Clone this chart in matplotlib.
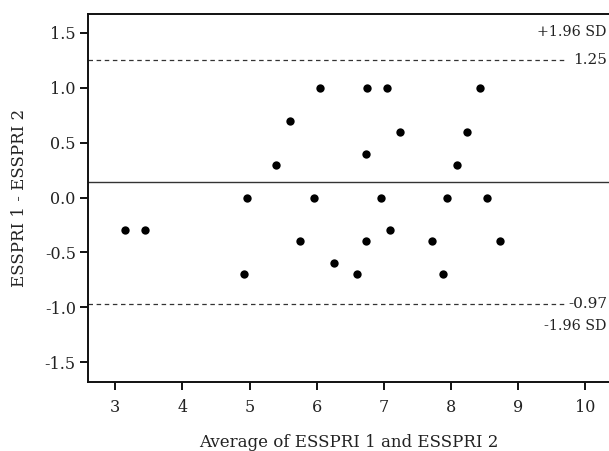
import matplotlib
matplotlib.use("Agg")
import matplotlib.pyplot as plt
import matplotlib.transforms as mtransforms

# Bland-Altman data
avg_scores = [6.05, 6.75, 7.05, 8.43, 5.60, 7.24, 8.23, 6.73, 5.40, 8.09,
              4.96, 5.96, 6.95, 7.94, 8.53,
              3.14, 3.44, 7.09,
              5.75, 6.74, 7.72, 8.73,
              6.26,
              4.91, 6.60, 7.88]
diff_scores = [1.0, 1.0, 1.0, 1.0, 0.7, 0.6, 0.6, 0.4, 0.3, 0.3,
               0.0, 0.0, 0.0, 0.0, 0.0,
               -0.3, -0.3, -0.3,
               -0.4, -0.4, -0.4, -0.4,
               -0.6,
               -0.7, -0.7, -0.7]
mean_diff = 0.14
upper_loa = 1.25
lower_loa = -0.97
x_ticks = [3, 4, 5, 6, 7, 8, 9, 10]
y_ticks = [-1.5, -1.0, -0.5, 0.0, 0.5, 1.0, 1.5]

plt.rcParams["font.family"] = ["DejaVu Serif"]
text_color = "#222222"

fig = plt.figure(figsize=(6.09, 4.51), dpi=100)
ax = fig.add_axes([88.3 / 609, 69.3 / 451, 1 - 88.3 / 609, (381.7 - 14.3) / 451])

ax.scatter(avg_scores, diff_scores, s=36, color="black", zorder=3, linewidths=0)

ax.axhline(mean_diff, color="#333333", lw=1.0)
# limits of agreement stop just before their value labels
ax.axhline(upper_loa, xmax=0.918, color="#333333", lw=0.9, dashes=(3.6, 2.9))
ax.axhline(lower_loa, xmax=0.918, color="#333333", lw=0.9, dashes=(3.6, 2.9))

trans = mtransforms.blended_transform_factory(ax.transAxes, ax.transData)
ax.annotate(f"{upper_loa:.2f}", xy=(0.996, upper_loa), xycoords=trans,
            ha="right", va="center", fontsize=11, color=text_color)
ax.annotate("+1.96 SD", xy=(0.996, upper_loa), xycoords=trans,
            xytext=(0, 20), textcoords="offset points",
            ha="right", va="center", fontsize=10.3, color=text_color)
ax.annotate(f"{lower_loa:.2f}", xy=(0.996, lower_loa), xycoords=trans,
            ha="right", va="center", fontsize=11, color=text_color)
ax.annotate("-1.96 SD", xy=(0.996, lower_loa), xycoords=trans,
            xytext=(0, -15.6), textcoords="offset points",
            ha="right", va="center", fontsize=10.3, color=text_color)

ax.set_xlim(2.6, 10.35)
ax.set_ylim(-1.676, 1.667)
ax.set_xticks(x_ticks)
ax.set_yticks(y_ticks)
ax.set_yticklabels([f"{v:.1f}" for v in y_ticks])

ax.spines["right"].set_visible(False)
for side in ["left", "top", "bottom"]:
    ax.spines[side].set_linewidth(1.4)
    ax.spines[side].set_color("#111111")
ax.tick_params(width=1.4, length=5.5, labelsize=11.5, colors="#111111",
               labelcolor=text_color)
ax.tick_params(axis="x", pad=7)

ax.set_xlabel("Average of ESSPRI 1 and ESSPRI 2", fontsize=12,
              color=text_color, labelpad=13)
ax.set_ylabel("ESSPRI 1 - ESSPRI 2", fontsize=12, color=text_color,
              labelpad=12)

fig.savefig("out.png", dpi=100)
